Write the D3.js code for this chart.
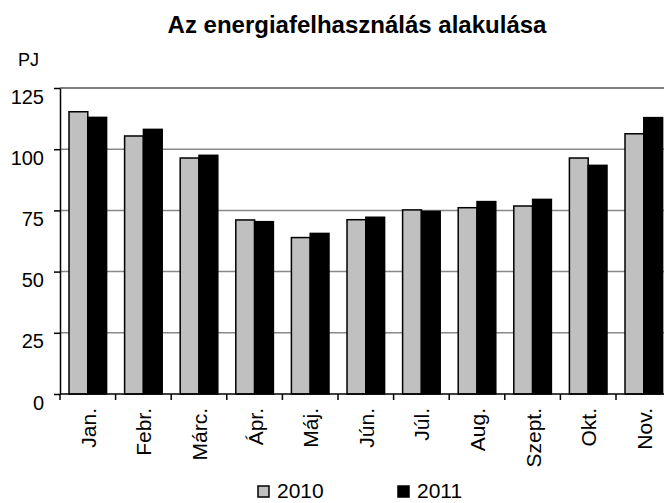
<!DOCTYPE html>
<html>
<head>
<meta charset="utf-8">
<script src="https://cdn.jsdelivr.net/npm/d3@7"></script>
<style type="text/css">
  body { margin: 0; background: #fff; }
  svg { display: block; font-family: "Liberation Sans", Arial, sans-serif; }
</style>
</head>
<body>
<svg id="chart" width="664" height="503"></svg>
<script type="text/javascript">
// chart data
var months = ["Jan.", "Febr.", "Márc.", "Ápr.", "Máj.", "Jún.", "Júl.", "Aug.", "Szept.", "Okt.", "Nov."];
var series = ["2010", "2011"];
var values2010 = [115.3, 105.4, 96.4, 71.1, 63.9, 71.2, 75.2, 76.1, 76.8, 96.4, 106.3];
var values2011 = [113.0, 108.1, 97.5, 70.4, 65.6, 72.2, 74.6, 78.6, 79.5, 93.4, 112.9];
var yTicks = [0, 25, 50, 75, 100, 125];
var colors = ["#c0c0c0", "#000000"];

var svg = d3.select("#chart"),
    margin = {top: 88, left: 60},
    width = 11 * 55.6,
    height = 306;

var x = d3.scaleBand().domain(months).range([0, width]).paddingInner(0).paddingOuter(0),
    xs = d3.scaleBand().domain(series).range([9, x.bandwidth() - 9]),
    y = d3.scaleLinear().domain([0, 125]).range([height, 0]);

var g = svg.append("g")
    .attr("transform", "translate(" + margin.left + "," + margin.top + ")");

// gridlines
g.selectAll(".grid")
    .data(yTicks.filter(function(d) { return d > 0; }))
    .enter().append("line")
    .attr("x1", 0).attr("x2", width)
    .attr("y1", function(d) { return y(d); })
    .attr("y2", function(d) { return y(d); })
    .attr("stroke", function(d) { return d == 125 ? "#555" : "#888"; })
    .attr("stroke-width", 1.5);

// bars
var rows = months.map(function(m, i) { return {month: m, vals: [values2010[i], values2011[i]]}; });
var grp = g.selectAll(".month")
    .data(rows)
    .enter().append("g")
    .attr("transform", function(d) { return "translate(" + x(d.month) + ",0)"; });

grp.selectAll("rect")
    .data(function(d) { return d.vals.map(function(v, i) { return {s: series[i], v: v, i: i}; }); })
    .enter().append("rect")
    .attr("x", function(d) { return xs(d.s); })
    .attr("width", xs.bandwidth())
    .attr("y", function(d) { return y(d.v); })
    .attr("height", function(d) { return height - y(d.v); })
    .attr("fill", function(d) { return colors[d.i]; })
    .attr("stroke", "#000")
    .attr("stroke-width", 1.5);

// y axis
var yAxis = g.append("g")
    .call(d3.axisLeft(y).tickValues(yTicks).tickSize(6).tickPadding(10).tickSizeOuter(0));
yAxis.select(".domain").attr("stroke", "#000").attr("stroke-width", 1.5);
yAxis.selectAll(".tick line").attr("stroke", "#000").attr("stroke-width", 1.5);
yAxis.selectAll("text")
    .attr("font-size", "20px")
    .attr("font-family", "Liberation Sans, Arial, sans-serif")
    .attr("fill", "#000")
    .attr("dy", "0.75em");

// x axis with ticks at band boundaries
var xAxis = g.append("g").attr("transform", "translate(0," + height + ")");
xAxis.append("line")
    .attr("x1", 0).attr("x2", width)
    .attr("stroke", "#000").attr("stroke-width", 1.5);
xAxis.selectAll(".xtick")
    .data(months.concat(["end"]))
    .enter().append("line")
    .attr("x1", function(d, i) { return i * x.step(); })
    .attr("x2", function(d, i) { return i * x.step(); })
    .attr("y1", 0).attr("y2", 6)
    .attr("stroke", "#000").attr("stroke-width", 1.5);
xAxis.selectAll(".xlabel")
    .data(months)
    .enter().append("text")
    .attr("transform", function(d) { return "translate(" + (x(d) + x.bandwidth() / 2 + 8) + ",14) rotate(-90)"; })
    .attr("text-anchor", "end")
    .attr("font-size", "21px")
    .attr("fill", "#000")
    .text(function(d) { return d; });

// title and unit
svg.append("text")
    .attr("x", 357).attr("y", 33)
    .attr("text-anchor", "middle")
    .attr("font-size", "24px")
    .attr("font-weight", "bold")
    .text("Az energiafelhasználás alakulása");

svg.append("text")
    .attr("x", 18).attr("y", 66)
    .attr("font-size", "18px")
    .text("PJ");

// legend
var legend = svg.append("g").attr("transform", "translate(258,486)");
var li = legend.selectAll("g")
    .data(series)
    .enter().append("g")
    .attr("transform", function(d, i) { return "translate(" + (i * 140) + ",0)"; });
li.append("rect")
    .attr("width", 11).attr("height", 11)
    .attr("fill", function(d, i) { return colors[i]; })
    .attr("stroke", "#000").attr("stroke-width", 1.5);
li.append("text")
    .attr("x", 19).attr("y", 12)
    .attr("font-size", "21px")
    .text(function(d) { return d; });
</script>
</body>
</html>
